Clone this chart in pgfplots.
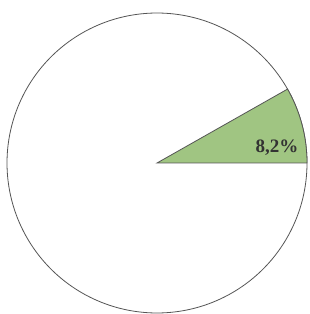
\documentclass[border=0pt]{standalone}
\usepackage{pgfplots}
\pgfplotsset{compat=1.18}
\usepackage{pgfplotstable}
\usepackage{fontspec}
\setmainfont{Liberation Serif}
\definecolor{slicegreen}{RGB}{160,197,130}
\definecolor{edgegray}{RGB}{85,85,85}
\pgfplotstableread{
label share
A 8.2
B 91.8
}\piedata
\pgfplotstablegetelem{0}{share}\of\piedata
\let\shareA\pgfplotsretval
\begin{document}
\begin{tikzpicture}
\begin{axis}[
  scale only axis, width=309pt, height=314pt,
  xmin=-1.0467, xmax=1.0133, ymin=-1.0067, ymax=1.0867,
  hide axis, clip=false,
]
\path[draw=none] (rel axis cs:0,0) rectangle (rel axis cs:1,1);
% whole circle (remaining share)
\addplot[draw=edgegray, line width=0.8pt, fill=white, domain=0:360, samples=180, smooth] ({cos(x)},{sin(x)}) -- cycle;
% slice
\addplot[draw=edgegray, line width=0.8pt, fill=slicegreen, domain=0:\shareA*3.6, samples=40] ({cos(x)},{sin(x)}) -- (axis cs:0,0) -- cycle;
\node[font=\bfseries\fontsize{19}{20}\selectfont, text=black!80] at (axis cs:0.8,0.1) {8,2\%};
\end{axis}
\end{tikzpicture}
\end{document}
